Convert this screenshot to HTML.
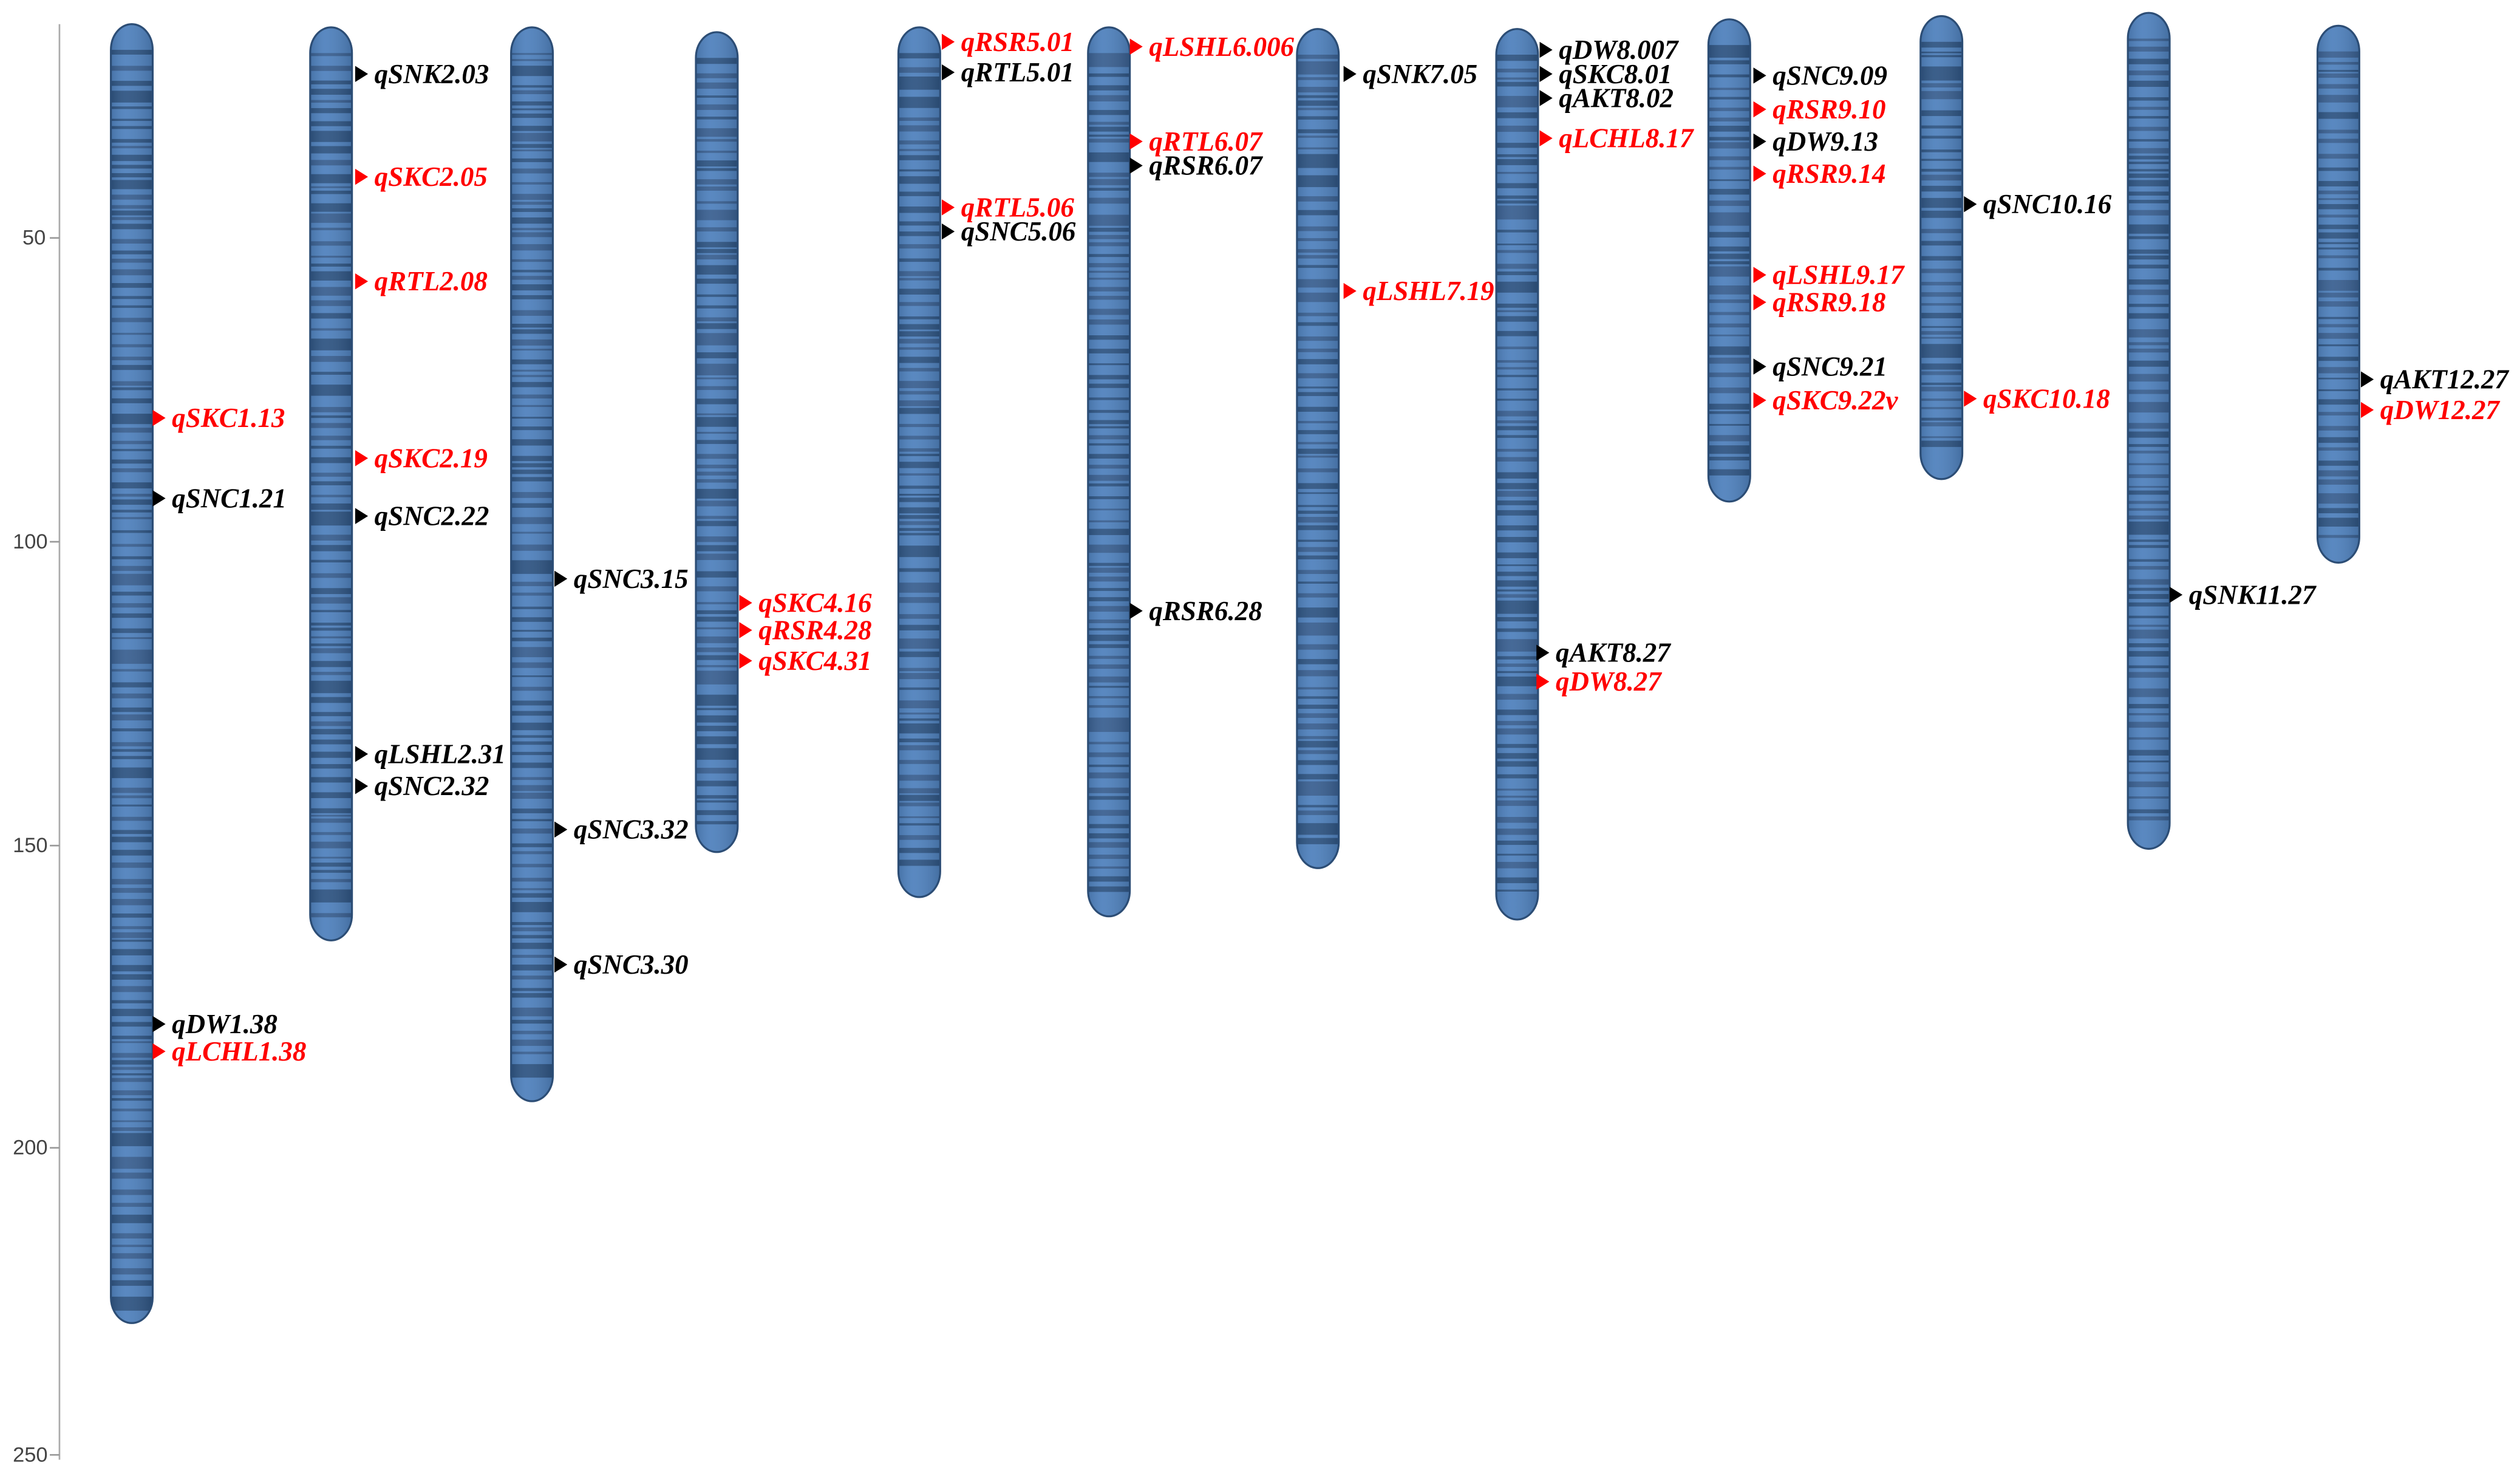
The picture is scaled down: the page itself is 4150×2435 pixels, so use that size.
<!DOCTYPE html>
<html><head><meta charset="utf-8"><style>
html,body{margin:0;padding:0;background:#fff;width:4150px;height:2435px;overflow:hidden}
svg{display:block}
.l{font-family:"Liberation Serif",serif;font-style:italic;font-weight:bold;font-size:17px;dominant-baseline:central}
.r{fill:#ff0000}.k{fill:#000}
.ax{font-family:"Liberation Sans",sans-serif;font-size:13px;fill:#444;dominant-baseline:central}
</style></head><body>
<svg id="s" width="4150" height="2435" viewBox="0 0 1568 920" xmlns="http://www.w3.org/2000/svg">
<defs><linearGradient id="sh" x1="0" x2="1" y1="0" y2="0">
<stop offset="0" stop-color="#000" stop-opacity="0.12"/><stop offset="0.35" stop-color="#fff" stop-opacity="0.06"/><stop offset="1" stop-color="#000" stop-opacity="0.15"/></linearGradient></defs>
<line x1="37" y1="15" x2="37" y2="908" stroke="#aaa" stroke-width="1"/>
<g stroke="#999" stroke-width="1">
<line x1="31" y1="148" x2="37" y2="148"/><line x1="31" y1="337" x2="37" y2="337"/><line x1="31" y1="526" x2="37" y2="526"/><line x1="31" y1="714" x2="37" y2="714"/><line x1="31" y1="905" x2="37" y2="905"/></g>
<text class="ax" x="14" y="148">50</text><text class="ax" x="8" y="337">100</text><text class="ax" x="8" y="526">150</text><text class="ax" x="8" y="714">200</text><text class="ax" x="8" y="905">250</text>
<g id="chr"></g>
<g id="arr"></g>
<!-- labels -->
<text class="l r" x="107" y="260">qSKC1.13</text>
<text class="l k" x="107" y="310">qSNC1.21</text>
<text class="l k" x="107" y="637">qDW1.38</text>
<text class="l r" x="107" y="654">qLCHL1.38</text>
<text class="l k" x="233" y="46">qSNK2.03</text>
<text class="l r" x="233" y="110">qSKC2.05</text>
<text class="l r" x="233" y="175">qRTL2.08</text>
<text class="l r" x="233" y="285">qSKC2.19</text>
<text class="l k" x="233" y="321">qSNC2.22</text>
<text class="l k" x="233" y="469">qLSHL2.31</text>
<text class="l k" x="233" y="489">qSNC2.32</text>
<text class="l k" x="357" y="360">qSNC3.15</text>
<text class="l k" x="357" y="516">qSNC3.32</text>
<text class="l k" x="357" y="600">qSNC3.30</text>
<text class="l r" x="472" y="375">qSKC4.16</text>
<text class="l r" x="472" y="392">qRSR4.28</text>
<text class="l r" x="472" y="411">qSKC4.31</text>
<text class="l r" x="598" y="26">qRSR5.01</text>
<text class="l k" x="598" y="45">qRTL5.01</text>
<text class="l r" x="598" y="129">qRTL5.06</text>
<text class="l k" x="598" y="144">qSNC5.06</text>
<text class="l r" x="715" y="29">qLSHL6.006</text>
<text class="l r" x="715" y="88">qRTL6.07</text>
<text class="l k" x="715" y="103">qRSR6.07</text>
<text class="l k" x="715" y="380">qRSR6.28</text>
<text class="l k" x="848" y="46">qSNK7.05</text>
<text class="l r" x="848" y="181">qLSHL7.19</text>
<text class="l k" x="970" y="31">qDW8.007</text>
<text class="l k" x="970" y="46">qSKC8.01</text>
<text class="l k" x="970" y="61">qAKT8.02</text>
<text class="l r" x="970" y="86">qLCHL8.17</text>
<text class="l k" x="968" y="406">qAKT8.27</text>
<text class="l r" x="968" y="424">qDW8.27</text>
<text class="l k" x="1103" y="47">qSNC9.09</text>
<text class="l r" x="1103" y="68">qRSR9.10</text>
<text class="l k" x="1103" y="88">qDW9.13</text>
<text class="l r" x="1103" y="108">qRSR9.14</text>
<text class="l r" x="1103" y="171">qLSHL9.17</text>
<text class="l r" x="1103" y="188">qRSR9.18</text>
<text class="l k" x="1103" y="228">qSNC9.21</text>
<text class="l r" x="1103" y="249">qSKC9.22v</text>
<text class="l k" x="1234" y="127">qSNC10.16</text>
<text class="l r" x="1234" y="248">qSKC10.18</text>
<text class="l k" x="1362" y="370">qSNK11.27</text>
<text class="l k" x="1481" y="236">qAKT12.27</text>
<text class="l r" x="1481" y="255">qDW12.27</text>
</svg>
<script>
(function(){
var NS="http://www.w3.org/2000/svg";
var chr=[[82,15,823],[206,17,585],[331,17,685],[446,20,530],[572,17,558],[690,17,570],[820,18,540],[944,18,572],[1076,12,312],[1208,10,298],[1337,8,528],[1455,16,350]];
var seed=12345;function rnd(){seed=(seed*1103515245+12345)%2147483648;return seed/2147483648;}
var g=document.getElementById("chr");
function el(t,a){var e=document.createElementNS(NS,t);for(var k in a)e.setAttribute(k,a[k]);return e;}
chr.forEach(function(c,i){
 var x=c[0]-13,w=26,t=c[1],b=c[2];
 var id="cp"+i;
 var cp=el("clipPath",{id:id});cp.appendChild(el("rect",{x:x,y:t,width:w,height:b-t,rx:13,ry:16}));g.appendChild(cp);
 var gg=el("g",{"clip-path":"url(#"+id+")"});
 gg.appendChild(el("rect",{x:x,y:t,width:w,height:b-t,fill:"#4f81bd"}));
 var y=t+16;
 while(y<b-16){var h=1+rnd()*(rnd()<0.2?8:3);
  gg.appendChild(el("rect",{x:x,y:y,width:w,height:h,fill:rnd()<0.5?"#3a6091":"#2f5583"}));
  y+=h+1+rnd()*6;}
 gg.appendChild(el("rect",{x:x,y:t,width:w,height:b-t,fill:"url(#sh)"}));
 g.appendChild(gg);
 g.appendChild(el("rect",{x:x,y:t,width:w,height:b-t,rx:13,ry:16,fill:"none",stroke:"#2c4d75","stroke-width":1.2}));
});
var arr=document.getElementById("arr");
var ts=document.querySelectorAll("text.l");
ts.forEach(function(t){var x=+t.getAttribute("x"),y=+t.getAttribute("y");
 var ax=x-12;var col=t.classList.contains("r")?"#ff0000":"#000";
 arr.appendChild(el("polygon",{points:ax+","+(y-5)+" "+(ax+8)+","+y+" "+ax+","+(y+5),fill:col}));});
})();
</script>
</body></html>
